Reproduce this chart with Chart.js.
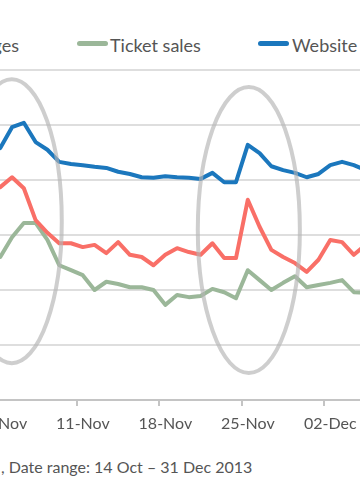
<!DOCTYPE html>
<html>
<head>
<meta charset="utf-8">
<script src="https://cdn.jsdelivr.net/npm/chart.js@4.4.0/dist/chart.umd.min.js"></script>
<style>
  html, body { margin: 0; padding: 0; width: 360px; height: 500px; overflow: hidden; background: #fff; }
  body { position: relative; font-family: Lato, sans-serif; color: #555; }
  #wrap { position: absolute; left: -41px; top: 50px; width: 442px; height: 390px; }
  .txt { position: absolute; white-space: nowrap; }
  .leg { top: 34px; font-size: 18px; line-height: 22px; }
  .sw { position: absolute; top: 41px; width: 31px; height: 5px; border-radius: 3px; }
  .foot { top: 457px; font-size: 16px; line-height: 20px; }
</style>
</head>
<body>
<span class="sw" style="left:-60px;background:#f96f67"></span>
<span class="txt leg" style="right:341px">Pages</span>
<span class="sw" style="left:77px;background:#9bb799"></span>
<span class="txt leg" style="left:110px">Ticket sales</span>
<span class="sw" style="left:258px;background:#1b77bd"></span>
<span class="txt leg" style="left:292px">Website visits</span>

<div id="wrap"><canvas id="chart"></canvas></div>

<span class="txt foot" style="right:361px">Daily totals</span>
<span class="txt foot" style="left:1px">, Date range: 14 Oct – 31 Dec 2013</span>

<script>
// dias visibles, del 04-Nov al 05-Dec 2013
const days = ['04-Nov', '05-Nov', '06-Nov', '07-Nov', '08-Nov', '09-Nov', '10-Nov',
  '11-Nov', '12-Nov', '13-Nov', '14-Nov', '15-Nov', '16-Nov', '17-Nov',
  '18-Nov', '19-Nov', '20-Nov', '21-Nov', '22-Nov', '23-Nov', '24-Nov',
  '25-Nov', '26-Nov', '27-Nov', '28-Nov', '29-Nov', '30-Nov', '01-Dec',
  '02-Dec', '03-Dec', '04-Dec', '05-Dec'];

const websiteVisits = [45.8, 49.6, 50.4, 46.9, 45.5, 43.3, 42.9,
  42.7, 42.4, 42.2, 41.5, 41.1, 40.5, 40.4,
  40.7, 40.5, 40.4, 40.2, 41.3, 39.6, 39.6,
  46.4, 44.9, 42.5, 41.8, 41.3, 40.5, 41.1,
  42.7, 43.3, 42.7, 41.8];

const pages = [38.7, 40.5, 38.5, 32.7, 30.4, 28.5, 28.5,
  27.8, 28.2, 26.7, 28.7, 26.4, 26.0, 24.5,
  26.4, 27.6, 26.9, 26.4, 28.5, 25.8, 25.8,
  36.4, 31.5, 27.3, 26.0, 24.9, 23.3, 25.5,
  29.1, 28.7, 26.4, 28.2];

const ticketSales = [26.0, 29.6, 32.2, 32.2, 29.1, 24.5, 23.6,
  22.7, 20.0, 21.5, 21.1, 20.5, 20.5, 20.0,
  17.3, 19.1, 18.7, 18.9, 20.2, 19.6, 18.5,
  23.6, 21.8, 20.0, 21.3, 22.5, 20.5, 20.9,
  21.3, 21.8, 19.6, 19.5];

// etiquetas semanales del eje X
const tickLabels = ['04-Nov', '11-Nov', '18-Nov', '25-Nov', '02-Dec'];

// elipses grises que marcan los picos (dia, valor, radios)
const highlights = [
  { day: 0.98, value: 32.5, dayRadius: 4.24, valueRadius: 25.8 },
  { day: 21.09, value: 30.9, dayRadius: 4.33, valueRadius: 26.0 }
];

const toPoints = arr => arr.map((v, i) => ({ x: i, y: v }));

const ellipsePlugin = {
  id: 'ellipses',
  afterDatasetsDraw(chart) {
    const { ctx, scales: { x, y } } = chart;
    ctx.save();
    ctx.strokeStyle = 'rgba(180, 180, 180, 0.65)';
    ctx.lineWidth = 4;
    highlights.forEach(h => {
      const cx = x.getPixelForValue(h.day);
      const cy = y.getPixelForValue(h.value);
      const rx = x.getPixelForValue(h.day + h.dayRadius) - cx;
      const ry = cy - y.getPixelForValue(h.value + h.valueRadius);
      ctx.beginPath();
      ctx.ellipse(cx, cy, rx, ry, 0, 0, Math.PI * 2);
      ctx.stroke();
    });
    ctx.restore();
  }
};

const lineStyle = {
  borderWidth: 4,
  pointRadius: 0,
  tension: 0,
  borderJoinStyle: 'round',
  borderCapStyle: 'round'
};

const ctx = document.getElementById('chart').getContext('2d');

const myChart = new Chart(ctx, {
  type: 'line',
  data: {
    datasets: [
      { label: 'Pages', data: toPoints(pages), borderColor: '#f96f67', ...lineStyle },
      { label: 'Ticket sales', data: toPoints(ticketSales), borderColor: '#9bb799', ...lineStyle },
      { label: 'Website visits', data: toPoints(websiteVisits), borderColor: '#1b77bd', ...lineStyle }
    ]
  },
  options: {
    responsive: true,
    maintainAspectRatio: false,
    animation: false,
    layout: { padding: { top: 20, left: 0, right: 0, bottom: 0 } },
    plugins: {
      legend: { display: false },
      tooltip: { enabled: false }
    },
    scales: {
      x: {
        type: 'linear',
        min: -3.5,
        max: 34,
        afterBuildTicks: scale => {
          scale.ticks = tickLabels.map(l => ({ value: days.indexOf(l) - 0.5 }));
        },
        afterFit: scale => { scale.height = 40; },
        ticks: {
          autoSkip: false,
          maxRotation: 0,
          padding: 8,
          labelOffset: 6,
          color: '#555',
          font: { family: 'Lato', size: 16 },
          callback: (value, i) => tickLabels[i]
        },
        grid: {
          drawOnChartArea: false,
          drawTicks: true,
          tickLength: 6,
          tickColor: '#c4c4c4',
          lineWidth: 2
        },
        border: { color: '#c4c4c4', width: 2 }
      },
      y: {
        min: 0,
        max: 60,
        ticks: { display: false, stepSize: 10 },
        grid: {
          drawTicks: false,
          lineWidth: 2,
          color: c => c.tick.value === 0 ? 'rgba(0,0,0,0)' : '#dedede'
        },
        border: { display: false }
      }
    }
  },
  plugins: [ellipsePlugin]
});
</script>
</body>
</html>
